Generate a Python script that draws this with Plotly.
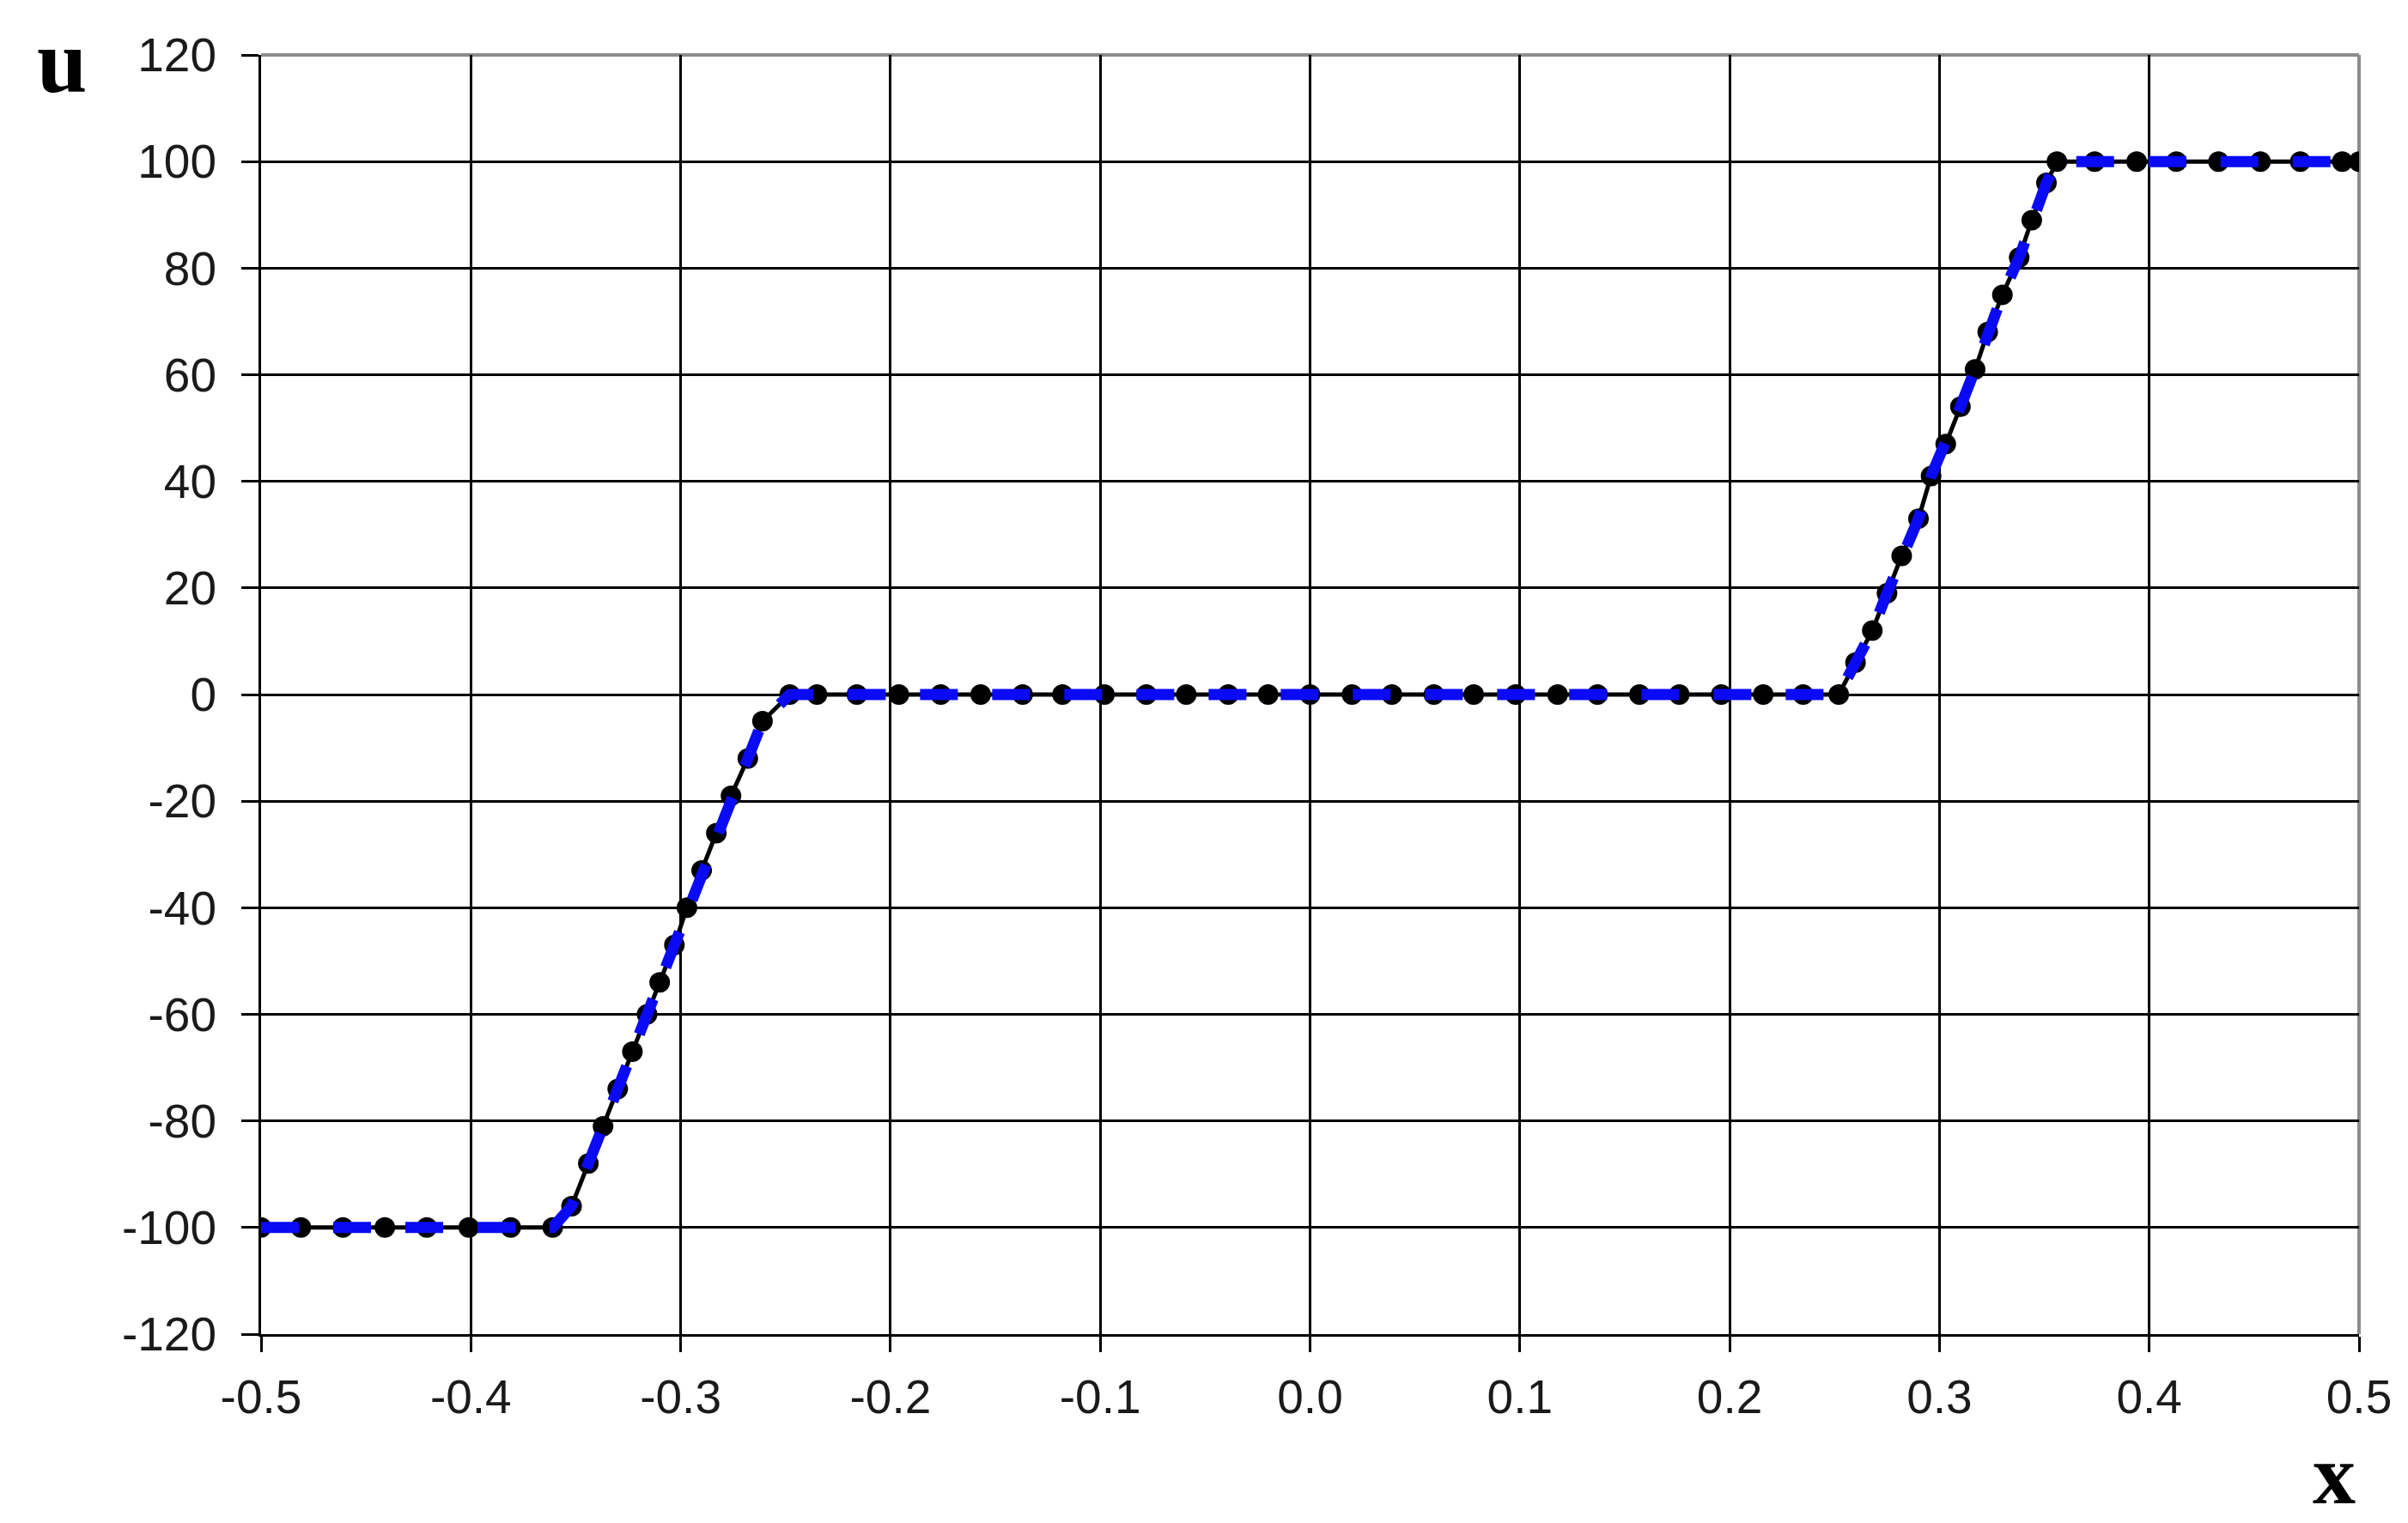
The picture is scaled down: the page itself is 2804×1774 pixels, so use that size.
import plotly.graph_objects as go

# grid points (x, u)
x_pts = [-0.500, -0.481, -0.461, -0.441, -0.421, -0.401, -0.381, -0.361,
         -0.352, -0.344, -0.337, -0.330, -0.323, -0.316, -0.310, -0.303,
         -0.297, -0.290, -0.283, -0.276, -0.268, -0.261,
         -0.248, -0.235, -0.216, -0.196, -0.176, -0.157, -0.137, -0.118,
         -0.098, -0.078, -0.059, -0.039, -0.020, 0.000, 0.020, 0.039,
         0.059, 0.078, 0.098, 0.118, 0.137, 0.157, 0.176, 0.196,
         0.216, 0.235, 0.252,
         0.260, 0.268, 0.275, 0.282, 0.290, 0.296, 0.303, 0.310,
         0.317, 0.323, 0.330, 0.338, 0.344, 0.351, 0.356,
         0.374, 0.394, 0.413, 0.433, 0.453, 0.472, 0.492, 0.500]
u_pts = [-100, -100, -100, -100, -100, -100, -100, -100,
         -96, -88, -81, -74, -67, -60, -54, -47,
         -40, -33, -26, -19, -12, -5,
         0, 0, 0, 0, 0, 0, 0, 0,
         0, 0, 0, 0, 0, 0, 0, 0,
         0, 0, 0, 0, 0, 0, 0, 0,
         0, 0, 0,
         6, 12, 19, 26, 33, 41, 47, 54,
         61, 68, 75, 82, 89, 96, 100,
         100, 100, 100, 100, 100, 100, 100, 100]

x_ticks = [-0.5, -0.4, -0.3, -0.2, -0.1, 0.0, 0.1, 0.2, 0.3, 0.4, 0.5]
x_labels = ["-0.5", "-0.4", "-0.3", "-0.2", "-0.1", "0.0", "0.1", "0.2", "0.3", "0.4", "0.5"]
y_ticks = [-120, -100, -80, -60, -40, -20, 0, 20, 40, 60, 80, 100, 120]
y_labels = ["-120", "-100", "-80", "-60", "-40", "-20", "0", "20", "40", "60", "80", "100", "120"]

fig = go.Figure()

# black line with dots
fig.add_trace(go.Scatter(x=x_pts, y=u_pts, mode="lines+markers",
                         line=dict(color="black", width=5),
                         marker=dict(color="black", size=24)))
# blue dashed line on top
fig.add_trace(go.Scatter(x=x_pts, y=u_pts, mode="lines",
                         line=dict(color="#0a0af5", width=13, dash="44px,40px")))

tickfont = dict(family="Liberation Sans, Arial", size=55, color="#1a1a1a")

fig.update_xaxes(range=[-0.5, 0.5], tickvals=x_ticks, ticktext=x_labels,
                 showgrid=True, gridcolor="black", gridwidth=3,
                 showline=True, linecolor="black", linewidth=3,
                 ticks="outside", ticklen=18, tickwidth=3, tickcolor="black",
                 ticklabelstandoff=5, tickfont=tickfont, zeroline=False)
fig.update_yaxes(range=[-120, 120], tickvals=y_ticks, ticktext=y_labels,
                 showgrid=True, gridcolor="black", gridwidth=3,
                 showline=True, linecolor="black", linewidth=3,
                 ticks="outside", ticklen=20, tickwidth=3, tickcolor="black",
                 ticklabelstandoff=18, tickfont=tickfont, zeroline=False)

# lighter border on top and right
fig.add_shape(type="line", xref="paper", yref="paper", x0=1, x1=1, y0=0, y1=1,
              line=dict(color="#8c8c8c", width=4), layer="between")
fig.add_shape(type="line", xref="paper", yref="paper", x0=0, x1=1, y0=1, y1=1,
              line=dict(color="#8c8c8c", width=4), layer="between")

fig.add_annotation(text="<b>u</b>", xref="paper", yref="paper", x=-0.095, y=0.995,
                   xanchor="center", yanchor="middle", showarrow=False,
                   font=dict(family="Liberation Serif, Times New Roman", size=105, color="black"))
fig.add_annotation(text="<b>x</b>", xref="paper", yref="paper", x=0.988, y=-0.11,
                   xanchor="center", yanchor="middle", showarrow=False,
                   font=dict(family="Liberation Serif, Times New Roman", size=100, color="black"))

fig.update_layout(width=2804, height=1774, autosize=False,
                  margin=dict(l=304, r=57, t=64, b=220),
                  paper_bgcolor="white", plot_bgcolor="white",
                  showlegend=False)

fig.write_html("out.html", config={"displayModeBar": False},
               post_script="document.body.style.margin='0';")
